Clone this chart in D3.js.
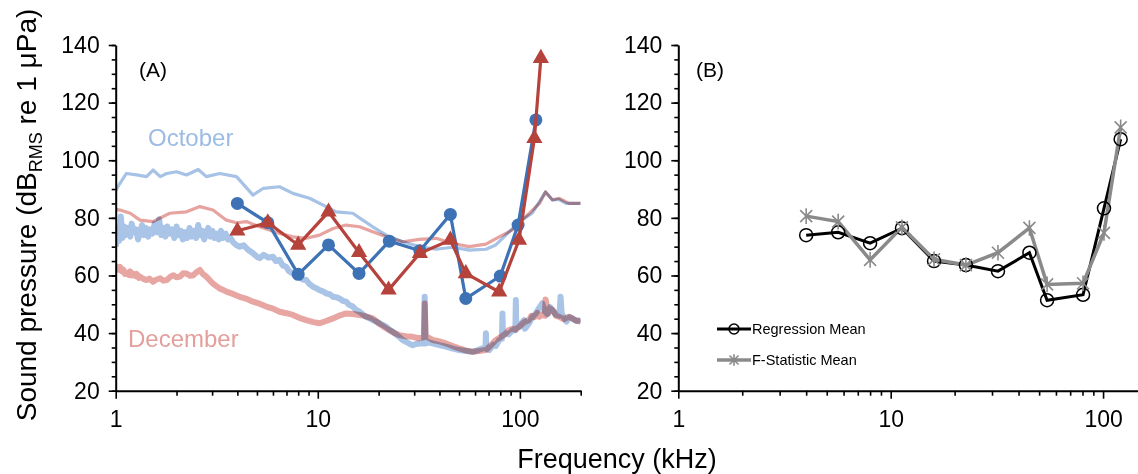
<!DOCTYPE html>
<html>
<head>
<meta charset="utf-8">
<script src="https://cdn.jsdelivr.net/npm/d3@7"></script>
<style>
  body { margin: 0; background: #fff; }
  svg { display: block; font-family: "Liberation Sans", Arial, sans-serif; }
</style>
</head>
<body>
<svg id="chart" width="1138" height="474"></svg>
<script>
// Panel A: ambient spectra (freq kHz, dB)
const octHi = [[1,89.5],[1.05,92],[1.13,95.4],[1.27,94.9],[1.42,94.3],[1.53,96.6],[1.66,94.3],[1.79,95.4],[2,96],[2.24,94.9],[2.56,96.8],[2.81,94.3],[3.27,95.4],[3.96,94.3],[4.78,87.9],[5.36,90.2],[6.47,90.8],[7.53,88.5],[9.1,86.8],[11,83.9],[12.3,82.1],[14.9,81.6],[16.7,79.2],[18.7,76.9],[21.8,74],[26.3,71.7],[31.8,70],[38.5,69.1],[46.5,69.8],[56.1,68.8],[67.9,69.1],[76,70.6],[85.3,74],[99.3,78.7],[115,81.6],[134,89],[145,86.2],[156,86.4],[169,85],[200,85]];
const decHi = [[1,83],[1.05,82.7],[1.18,81.6],[1.32,79.2],[1.53,78.7],[1.85,81.6],[2.24,82.1],[2.61,83.9],[3.03,82.7],[3.53,79.2],[3.96,78.3],[4.43,78.7],[5.16,76.9],[6.47,74.6],[7.53,73.4],[8.77,72.9],[10.2,74],[11.9,76.3],[13.8,77.5],[16.1,76.9],[18.7,75.2],[21.8,73.4],[26.3,71.7],[31.8,72.5],[38.5,72.9],[46.5,71.1],[56.1,70],[67.9,70.9],[79,73.4],[91.9,75.8],[107,80.4],[125,85],[134,89],[145,86.2],[156,86.8],[175,85],[200,85]];
const octLo = [[1,70],[1.02,76],[1.04,72],[1.06,80.5],[1.08,73],[1.1,77],[1.12,74],[1.15,76.5],[1.18,73.5],[1.2,78],[1.23,75],[1.26,76],[1.29,72.5],[1.32,75],[1.35,77.5],[1.38,74],[1.41,76.5],[1.45,73.5],[1.48,76],[1.52,74.5],[1.56,78],[1.6,75],[1.64,79.5],[1.68,74],[1.72,76.5],[1.76,73.5],[1.8,77],[1.85,74.5],[1.9,76],[1.95,73],[2,77],[2.05,74],[2.1,75.5],[2.15,72.5],[2.2,75],[2.26,73],[2.32,76.5],[2.38,73.5],[2.44,75.5],[2.5,73],[2.56,77.5],[2.62,74],[2.68,75.5],[2.74,72.5],[2.8,74.5],[2.87,76.5],[2.94,73.5],[3.01,75.5],[3.08,73],[3.16,74.5],[3.24,72.5],[3.32,75.5],[3.4,73],[3.5,74.5],[3.6,72.5],[3.7,73],[3.81,71.5],[3.96,70.5],[4.11,70],[4.3,70.5],[4.5,69],[4.78,67.7],[5,66.5],[5.16,66],[5.4,67.2],[5.7,66.2],[6,66.5],[6.2,65],[6.47,65.4],[6.7,63.5],[6.98,63],[7.2,61.5],[7.53,60.7],[7.8,60.2],[8.13,59.6],[8.4,58.6],[8.77,58.4],[9.1,57],[9.46,56.1],[9.8,55.6],[10.2,54.9],[10.6,54.5],[11,53.8],[11.5,53.4],[11.9,52.6],[12.4,52.4],[12.8,52],[13.3,51.2],[13.8,50.9],[14.3,49.8],[14.9,49.2],[15.5,48],[16.1,47.4],[16.7,46.5],[17.3,45.7],[18,45.2],[18.7,44.5],[19.4,44],[20.2,43.4],[21,42.8],[21.8,42.2],[22.6,41.2],[23.5,40.5],[24.4,39.5],[25.3,38.7],[26.3,37.6],[27.3,37],[28.4,36.3],[29.5,35.8],[30.6,36.2],[31.8,36.4],[33.6,36.5],[33.8,52.6],[34.1,36.4],[35.5,36.8],[37,36.4],[40,35.8],[43.1,35.3],[46.5,34.6],[50.1,34.1],[54,33.8],[58.3,33.5],[61.5,34],[65.3,34.7],[67.6,35],[67.9,39.9],[68.3,34.5],[70.5,34.1],[74,36],[76,35.5],[79,37.6],[81.5,38],[82,46.8],[82.5,39],[85.3,39.9],[88,39.5],[91.9,41],[95,41],[95.5,51.5],[96,42],[99.3,42.2],[102,43.5],[105,44.5],[106,41.5],[111,43.4],[115,45.5],[120,46.8],[124,48.5],[129,50.3],[133,47.5],[137,46.5],[141,49],[145,48],[150,46.5],[157,46],[159,52.6],[161,46.8],[165,45.5],[170,44],[176,45.5],[182,45.1],[190,44.2],[200,44.5]];
const decLo = [[1,63.5],[1.03,62],[1.05,63],[1.07,61.5],[1.09,62],[1.11,60.5],[1.13,61],[1.16,60.2],[1.18,61.4],[1.2,60],[1.22,60.6],[1.25,59.8],[1.27,60.5],[1.3,59.2],[1.32,59.6],[1.37,58.8],[1.42,58.4],[1.47,58.9],[1.53,57.8],[1.59,58.6],[1.66,59],[1.72,58.2],[1.79,58.4],[1.86,59.5],[1.93,60.1],[2,59.4],[2.08,59.6],[2.16,60.8],[2.24,60.7],[2.33,59.9],[2.42,60.1],[2.5,61],[2.61,61.9],[2.7,60.5],[2.81,59.6],[2.92,58.3],[3.03,57.2],[3.15,56.3],[3.27,55.5],[3.4,55],[3.53,54.4],[3.8,53.6],[4.11,52.6],[4.4,52],[4.78,50.9],[5.15,50.2],[5.56,49.2],[6,48.5],[6.47,47.4],[7,46.9],[7.53,46.3],[8.1,45.3],[8.77,44.5],[9.5,43.8],[10.2,43.4],[11,44.2],[11.9,45.1],[12.8,46.1],[13.8,46.8],[14.9,46.6],[16.1,46.3],[17.3,45.8],[18.7,45.1],[20.2,43.2],[21.8,41.6],[23.5,40.3],[25.3,39.3],[27.3,38.9],[29.5,38.7],[31.5,38.2],[33.5,38.5],[33.8,50.3],[34.2,39],[35.5,38.3],[37,37.6],[40,37.1],[43.1,36.4],[46.5,35.5],[50.1,34.7],[54,34],[58.3,33.5],[63,33.8],[67.9,34.1],[72,35.8],[76,37.6],[80,38.5],[85.3,39.9],[88,41],[92,41.5],[95,41.2],[99.3,42.2],[105,43.8],[111,44.5],[114,46],[118,45.5],[122,47],[125,45.7],[129,46.5],[133,46],[134,51.7],[138,46.8],[142,48.5],[147,47.5],[151,46],[156,45.7],[165,44.8],[175,45.7],[188,44.5],[200,43.9]];

// Panel A: band levels
const freqOct = [4, 5.66, 8, 11.3, 16, 22.6, 32, 45.3, 54, 80, 98, 120];
const octBand = [85.0, 78.3, 60.4, 70.6, 60.7, 71.9, 68.6, 81.2, 52.0, 59.8, 77.5, 114];
const freqDec = [4, 5.66, 8, 11.3, 16, 22.4, 32, 45.3, 54, 79, 99, 118, 127];
const decBand = [75.5, 78.3, 70.6, 82.1, 68.0, 55.0, 67.7, 72.3, 60.7, 54.3, 72.3, 107.6, 135.4];

// Panel B
const freqB = [4, 5.66, 8, 11.3, 16, 22.6, 32, 45, 54.5, 80.5, 101, 121];
const regMean = [74.0, 75.0, 71.2, 76.4, 65.0, 63.6, 61.5, 67.9, 51.4, 53.3, 83.3, 107.3];
const fMean = [80.6, 78.7, 65.4, 76.7, 65.6, 63.6, 67.9, 76.5, 56.9, 57.3, 74.8, 111.4];

const yTicks = d3.range(20, 141, 20);
const yMinor = d3.range(20, 141, 5);
const xTicks = [1, 10, 100];
const xMinor = [2,3,4,5,6,7,8,9,20,30,40,50,60,70,80,90,200];

const svg = d3.select("#chart");
const y = d3.scaleLinear().domain([20, 140]).range([390.7, 45]);
const xA = d3.scaleLog().domain([1, 200]).range([115.7, 580.7]);
const xB = d3.scaleLog().domain([1, 200]).range([678.3, 1167]);

function axes(x) {
  const g = svg.append("g");
  // minor ticks
  g.append("g").attr("transform", `translate(0,${y.range()[0]})`)
    .call(d3.axisBottom(x).tickValues(xMinor).tickSize(5).tickFormat(""))
    .call(a => a.select(".domain").remove());
  g.append("g").attr("transform", `translate(${x.range()[0]},0)`)
    .call(d3.axisLeft(y).tickValues(yMinor).tickSize(4).tickFormat(""))
    .call(a => a.select(".domain").remove());
  g.append("g").attr("transform", `translate(0,${y.range()[0]})`)
    .call(d3.axisBottom(x).tickValues(xTicks).tickSize(8).tickPadding(12).tickSizeOuter(0).tickFormat(d3.format("d")))
    .attr("font-size", "23px");
  g.append("g").attr("transform", `translate(${x.range()[0]},0)`)
    .call(d3.axisLeft(y).tickValues(yTicks).tickSize(7).tickPadding(9).tickSizeOuter(0))
    .attr("font-size", "23px");
  g.selectAll("text").attr("font-family", "Liberation Sans, Arial, sans-serif").attr("fill", "#000");
  g.selectAll(".domain").attr("stroke-width", 2);
  g.selectAll(".tick line").attr("stroke-width", 1.6);
  return g;
}

// ---- Panel A
svg.append("clipPath").attr("id", "clipA").append("rect")
  .attr("x", xA.range()[0]).attr("y", 0).attr("width", xA.range()[1] - xA.range()[0]).attr("height", y.range()[0]);

const lineA = d3.line().x(d => xA(d[0])).y(d => y(d[1]));
const bg = svg.append("g").attr("clip-path", "url(#clipA)");
[[octLo, "#a9c4e6", 6], [decLo, "#e8a6a3", 6], [octHi, "#a6c2e6", 3.2], [decHi, "#e6a3a0", 3.2]].forEach(([d, c, w]) => {
  bg.append("path").datum(d).attr("d", lineA).attr("fill", "none")
    .attr("stroke", c).attr("stroke-width", w).attr("stroke-linejoin", "round")
    .style("mix-blend-mode", "multiply");
});

svg.append("text").attr("x", 148).attr("y", 146).attr("font-size", "24px").attr("fill", "#9dbce3").text("October");
svg.append("text").attr("x", 128).attr("y", 347).attr("font-size", "24px").attr("fill", "#e39f9b").text("December");

axes(xA);

const blue = "#3d72b4", red = "#b5423b";
const octPts = freqOct.map((f, i) => [f, octBand[i]]);
const decPts = freqDec.map((f, i) => [f, decBand[i]]);
svg.append("path").datum(octPts).attr("d", lineA).attr("fill", "none").attr("stroke", blue).attr("stroke-width", 3.2);
svg.selectAll(".oct").data(octPts).enter().append("circle")
  .attr("cx", d => xA(d[0])).attr("cy", d => y(d[1])).attr("r", 6.5).attr("fill", blue);
svg.append("path").datum(decPts).attr("d", lineA).attr("fill", "none").attr("stroke", red).attr("stroke-width", 3.2);
svg.selectAll(".dec").data(decPts).enter().append("path")
  .attr("transform", d => `translate(${xA(d[0])},${y(d[1])})`)
  .attr("d", d3.symbol(d3.symbolTriangle, 115)).attr("fill", red);

svg.append("text").attr("x", 139).attr("y", 77).attr("font-size", "21px").text("(A)");

// ---- Panel B
axes(xB);
const lineB = d3.line().x(d => xB(d[0])).y(d => y(d[1]));
const regPts = freqB.map((f, i) => [f, regMean[i]]);
const fPts = freqB.map((f, i) => [f, fMean[i]]);
const gray = "#8a8a8a";
svg.append("path").datum(regPts).attr("d", lineB).attr("fill", "none").attr("stroke", "#000").attr("stroke-width", 3);
svg.append("path").datum(fPts).attr("d", lineB).attr("fill", "none").attr("stroke", gray).attr("stroke-width", 3.5);
svg.selectAll(".reg").data(regPts).enter().append("circle")
  .attr("cx", d => xB(d[0])).attr("cy", d => y(d[1])).attr("r", 6.5)
  .attr("fill", "none").attr("stroke", "#000").attr("stroke-width", 1.5);

function star(g, cx, cy, s) {
  const p = `M${-s},${-s}L${s},${s}M${-s},${s}L${s},${-s}M0,${-s * 1.3}L0,${s * 1.3}`;
  g.append("path").attr("transform", `translate(${cx},${cy})`).attr("d", p)
    .attr("stroke", gray).attr("stroke-width", 1.6).attr("fill", "none");
}
fPts.forEach(d => star(svg, xB(d[0]), y(d[1]), 6));

svg.append("text").attr("x", 696).attr("y", 77).attr("font-size", "21px").text("(B)");

// legend
const lg = svg.append("g");
lg.append("line").attr("x1", 717).attr("x2", 751).attr("y1", 329).attr("y2", 329).attr("stroke", "#000").attr("stroke-width", 3);
lg.append("circle").attr("cx", 734).attr("cy", 329).attr("r", 5).attr("fill", "none").attr("stroke", "#000").attr("stroke-width", 1.5);
lg.append("text").attr("x", 752).attr("y", 334).attr("font-size", "14.5px").text("Regression Mean");
lg.append("line").attr("x1", 717).attr("x2", 751).attr("y1", 360).attr("y2", 360).attr("stroke", gray).attr("stroke-width", 3.5);
star(lg, 734, 360, 4.5);
lg.append("text").attr("x", 752).attr("y", 365).attr("font-size", "14.5px").text("F-Statistic Mean");

// axis titles
svg.append("text").attr("x", 617).attr("y", 468).attr("text-anchor", "middle").attr("font-size", "27px").text("Frequency (kHz)");
const yt = svg.append("text").attr("transform", "translate(36,215) rotate(-90)").attr("text-anchor", "middle").attr("font-size", "28px");
yt.append("tspan").text("Sound pressure (dB");
yt.append("tspan").attr("font-size", "18px").attr("dy", 6).text("RMS");
yt.append("tspan").attr("dy", -6).text(" re 1 μPa)");
</script>
</body>
</html>
